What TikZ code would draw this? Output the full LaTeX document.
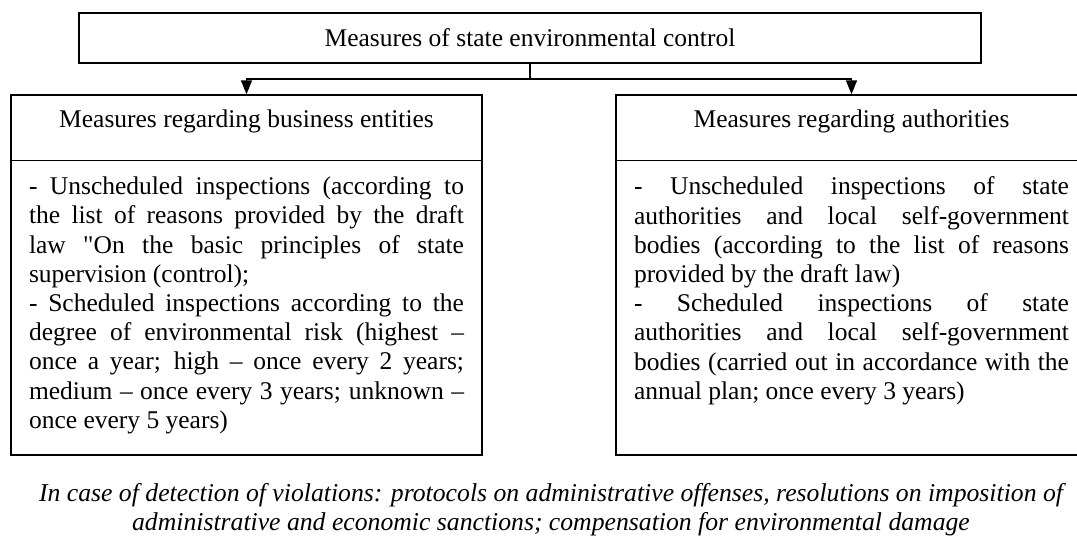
\documentclass[tikz,border=0pt]{standalone}
\usepackage{fontspec}
\setmainfont{Liberation Serif}[Ligatures=TeXOff]
\usetikzlibrary{positioning,arrows.meta}

\begin{document}
\begin{tikzpicture}[x=1pt,y=-1pt,node distance=0pt,
box/.style={rectangle,draw,line width=1.3pt,inner sep=0pt},
head/.style={inner sep=0pt,minimum height=66pt,text depth=17pt,font=\fontsize{25.5}{29.2}\selectfont},
body/.style={inner xsep=0pt,inner ysep=16pt,text width=435pt,align=justify,font=\fontsize{25.5}{29.2}\selectfont},
paths/.style={line width=1.3pt},
arrow/.style={line width=1.3pt,-{Triangle[length=14pt,width=11pt]}}
]
\useasboundingbox (0,0) rectangle (1077,538);
\fill[white] (0,0) rectangle (1077,538);
\clip (0,0) rectangle (1077,538);

%create nodes
\node[box,minimum width=902pt,minimum height=50pt,font=\fontsize{25.5}{29.2}\selectfont] (ctrl) at (530,38) {Measures of state environmental control};
\node[box,minimum width=471pt,minimum height=360pt] (biz) at (246.5,275) {};
\node[box,minimum width=471pt,minimum height=360pt] (auth) at (851.5,275) {};

\node[head, below=of biz.north] (bizh) {Measures regarding business entities};
\node[head, below=of auth.north] (authh) {Measures regarding authorities};

\node[body, below=of bizh] (bizb) {- Unscheduled inspections (according to\linebreak
the list of reasons provided by the draft\linebreak
law "On the basic principles of state\linebreak
supervision (control);\\
- Scheduled inspections according to the\linebreak
degree of environmental risk (highest –\linebreak
once a year; high – once every 2 years;\linebreak
medium – once every 3 years; unknown –\linebreak
once every 5 years)};
\node[body, below=of authh] (authb) {- Unscheduled inspections of state\linebreak
authorities and local self-government\linebreak
bodies (according to the list of reasons\linebreak
provided by the draft law)\\
- Scheduled inspections of state\linebreak
authorities and local self-government\linebreak
bodies (carried out in accordance with the\linebreak
annual plan; once every 3 years)};

\node[align=center,font=\itshape\fontsize{25.7}{29.2}\selectfont] (note) at (551,510) {In case of detection of violations: protocols on administrative offenses, resolutions on imposition of\\
administrative and economic sanctions; compensation for environmental damage};

\coordinate (split) at (530,79);

%header separators
\draw[paths] (biz.west |- bizh.south) -- (biz.east |- bizh.south);
\draw[paths] (auth.west |- authh.south) -- (auth.east |- authh.south);

%draw paths
\draw[paths] (ctrl) -- (split);
\draw[arrow] (split) -| (biz);
\draw[arrow] (split) -| (auth);

\end{tikzpicture}
\end{document}
